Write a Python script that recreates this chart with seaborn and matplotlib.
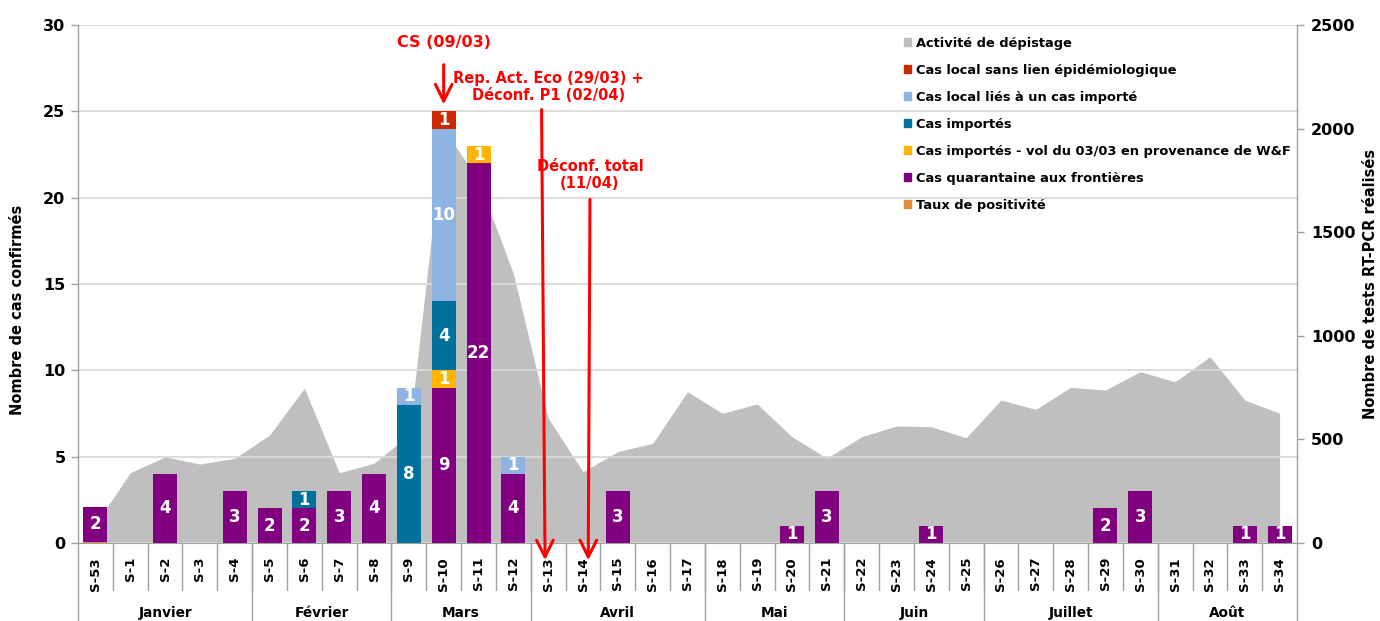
import matplotlib
matplotlib.use("Agg")
import matplotlib.pyplot as plt
import matplotlib.transforms as mtransforms
from matplotlib.patches import Patch
import seaborn as sns
import pandas as pd
import numpy as np

# Data
weeks = ["S-53"] + [f"S-{i}" for i in range(1, 35)]
months = ["Janvier", "Février", "Mars", "Avril", "Mai", "Juin", "Juillet", "Août"]
month_sizes = [5, 4, 4, 5, 4, 4, 5, 4]

tests = [90, 339, 416, 381, 409, 521, 747, 339, 385, 520, 2000, 1750, 1300, 602, 344,
         441, 481, 730, 626, 671, 513, 409, 513, 565, 561, 508, 690, 645, 751, 738,
         827, 778, 899, 690, 626]

taux = [0.08] + [0] * 34
quarantaine = [2, 0, 4, 0, 3, 2, 2, 3, 4, 0, 9, 22, 4, 0, 0, 3, 0, 0, 0, 0, 1, 3,
               0, 0, 1, 0, 0, 0, 0, 2, 3, 0, 0, 1, 1]
vol_wf = [0] * 10 + [1, 1] + [0] * 23
importes = [0, 0, 0, 0, 0, 0, 1, 0, 0, 8, 4] + [0] * 24
local_lies = [0] * 9 + [1, 10, 0, 1] + [0] * 22
local_sans = [0] * 10 + [1] + [0] * 24

series = [
    ("Taux de positivité", taux, "#E38B3C"),
    ("Cas quarantaine aux frontières", quarantaine, "#800080"),
    ("Cas importés - vol du 03/03 en provenance de W&F", vol_wf, "#FFB400"),
    ("Cas importés", importes, "#00719C"),
    ("Cas local liés à un cas importé", local_lies, "#8EB4E3"),
    ("Cas local sans lien épidémiologique", local_sans, "#CC2900"),
]

df = pd.DataFrame({"semaine": weeks})
bottoms = {}
running = np.zeros(len(weeks))
for name, vals, col in series:
    bottoms[name] = running.copy()
    running = running + np.array(vals, dtype=float)
    df[name] = running

# Plot
sns.set_style("white")
plt.rcParams["font.family"] = ["DejaVu Sans"]
plt.rcParams["text.color"] = "black"
plt.rcParams["axes.labelcolor"] = "black"
grid_col = "#D9D9D9"
axis_col = "#A0A0A0"

fig = plt.figure(figsize=(13.8, 6.21), dpi=100)
ax = fig.add_axes([78 / 1380, 78 / 621, 1219 / 1380, 518 / 621])
ax2 = ax.twinx()

# screening activity (secondary axis, behind)
ax2.fill_between(np.arange(len(weeks)), tests, color="#BFBFBF", lw=0)
ax2.set_ylim(0, 2500)
ax2.set_yticks(range(0, 2501, 500))

# stacked bars, drawn from top layer down
for name, vals, col in reversed(series):
    sns.barplot(data=df, x="semaine", y=name, color=col, saturation=1, width=0.69,
                linewidth=0, ax=ax, order=weeks)

for name, vals, col in series[1:]:
    for i, v in enumerate(vals):
        if v > 0:
            ax.text(i, bottoms[name][i] + v / 2, str(v), ha="center", va="center",
                    color="white", fontsize=12, fontweight="bold")

ax.set_zorder(ax2.get_zorder() + 1)
ax.patch.set_visible(False)
ax.set_ylim(0, 30)
ax.set_xlim(-0.5, len(weeks) - 0.5)
ax.set_yticks(range(0, 31, 5))
ax.yaxis.grid(True, color=grid_col, lw=1.3)
ax.set_axisbelow(True)

for a in (ax, ax2):
    for s in a.spines.values():
        s.set_visible(False)
ax.spines["bottom"].set_visible(True)
ax.spines["bottom"].set_color(axis_col)

ax.tick_params(axis="y", length=5, color=axis_col, labelcolor="black", width=1, pad=4,
               labelsize=11.5, left=True)
ax2.tick_params(axis="y", length=5, color=axis_col, labelcolor="black", width=1, pad=5,
                labelsize=11.5, right=True)
for lab in ax.get_yticklabels() + ax2.get_yticklabels():
    lab.set_fontweight("bold")

ax.set_xlabel(None)
ax.set_ylabel("Nombre de cas confirmés", fontsize=10.5, fontweight="bold")
ax.yaxis.set_label_coords(-0.0435, 0.45)
ax2.set_ylabel("Nombre de tests RT-PCR réalisés", fontsize=10.5, fontweight="bold")
ax2.yaxis.set_label_coords(1.054, 0.5)

ax.set_xticks(range(len(weeks)))
ax.set_xticklabels(weeks, rotation=90, fontsize=9.5, fontweight="bold")
ax.tick_params(axis="x", length=0, pad=10, labelcolor="black")

# two-level category axis
trans = mtransforms.blended_transform_factory(ax.transData, ax.transAxes)
for i in range(len(weeks) - 1):
    ax.plot([i + 0.5, i + 0.5], [0, -0.0907], transform=trans, color=axis_col, lw=1, clip_on=False)
start = 0
for m, n in zip(months, month_sizes):
    ax.text(start + (n - 1) / 2, -0.135, m, transform=trans, ha="center", va="center",
            fontsize=9.8, fontweight="bold")
    start += n
    if start < len(weeks):
        ax.plot([start - 0.5] * 2, [0, -0.1506], transform=trans, color=axis_col, lw=1, clip_on=False)
for xa in (0, 1):
    ax.plot([xa, xa], [-0.1506, 1], transform=ax.transAxes, color=axis_col, lw=1, clip_on=False)

# events
red = "#FF0000"
arrow = dict(arrowstyle="->,head_length=0.6,head_width=0.3", color=red, lw=2.2,
             mutation_scale=20, shrinkA=0, shrinkB=0)
ax.text(10, 29.0, "CS (09/03)", color=red, ha="center", va="center", fontsize=11.5, fontweight="bold")
ax.annotate("", xy=(10, 25.4), xytext=(10, 27.7), arrowprops=arrow)
ax.text(13.0, 26.4, "Rep. Act. Eco (29/03) +\nDéconf. P1 (02/04)", color=red, ha="center",
        va="center", fontsize=10.5, fontweight="bold", linespacing=1.15)
ax.annotate("", xy=(12.91, -1.0), xytext=(12.81, 25.1), annotation_clip=False, arrowprops=arrow)
ax.text(14.2, 21.3, "Déconf. total\n(11/04)", color=red, ha="center", va="center",
        fontsize=10.5, fontweight="bold", linespacing=1.15)
ax.annotate("", xy=(14.15, -1.0), xytext=(14.2, 19.9), annotation_clip=False, arrowprops=arrow)

# legend
handles = [Patch(color="#BFBFBF", label="Activité de dépistage")]
for name, vals, col in [series[5], series[4], series[3], series[2], series[1], series[0]]:
    handles.append(Patch(color=col, label=name))
ax.legend(handles=handles, loc="upper left", bbox_to_anchor=(0.668, 1.0), frameon=False,
          handlelength=0.55, handleheight=0.55, handletextpad=0.35, labelspacing=1.07,
          prop={"size": 9.4, "weight": "bold"})

fig.savefig("out.png", dpi=100)
